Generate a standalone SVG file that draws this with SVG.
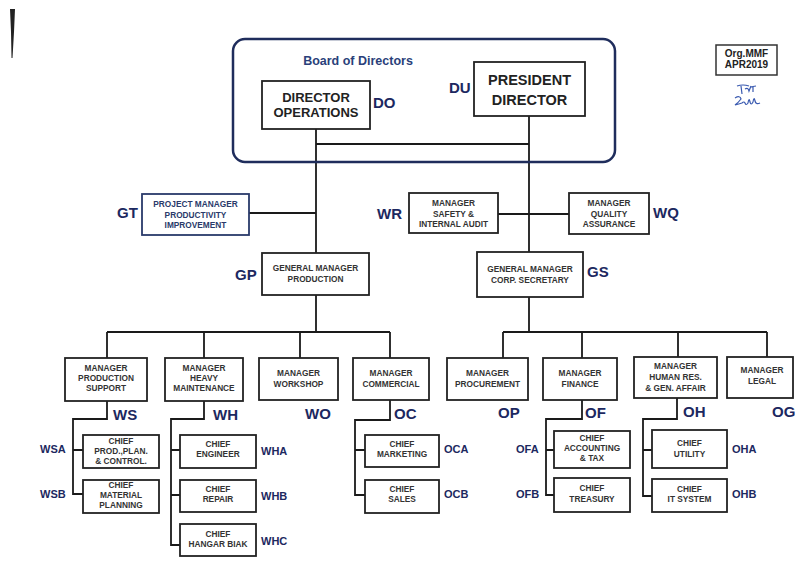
<svg xmlns="http://www.w3.org/2000/svg" width="795" height="581" viewBox="0 0 795 581">
<style>
.box{fill:#fff;stroke:#222;stroke-width:1.8}
.bt{font-family:"Liberation Sans",Arial,sans-serif;font-weight:bold;font-size:8.3px;fill:#333;text-anchor:middle}
.big{font-family:"Liberation Sans",Arial,sans-serif;font-weight:bold;fill:#222;text-anchor:middle}
.lbl{font-family:"Liberation Sans",Arial,sans-serif;font-weight:bold;font-size:15px;fill:#1c2860}
.sl{font-family:"Liberation Sans",Arial,sans-serif;font-weight:bold;font-size:11px;fill:#1c2860}
.con{fill:none;stroke:#1a1a1a;stroke-width:1.8}
</style>
<rect width="795" height="581" fill="#fff"/>
<polygon points="10,9 15,9 14,32 12.5,58 11.5,58 11,32" fill="#222"/>
<g id="connectors">
<path class="con" d="M316,129 V253 M316,144 H529 M529,116 V252 M249,213 H316 M498,214 H569"/>
<path class="con" d="M316,295 V332 M107,332 H390 M107,332 V358 M204,332 V358 M300,332 V358 M390,332 V358"/>
<path class="con" d="M529,297 V332 M503,332 H767 M503,332 V358 M582,332 V358 M678,332 V357 M767,332 V357"/>
<path class="con" d="M107,401 V419 H73 V494 H83 M73,450 H83"/>
<path class="con" d="M204,401 V419 H171 V545 H180 M171,450 H180 M171,495 H180"/>
<path class="con" d="M390,400 V420 H355 V495 H365 M355,450 H365"/>
<path class="con" d="M582,400 V419 H546 V495 H554 M546,450 H554"/>
<path class="con" d="M677,398 V419 H643 V496 H652 M643,450 H652"/>
</g>
<g id="board">
<rect x="233" y="39" width="382" height="123" rx="12" fill="none" stroke="#1f2d5c" stroke-width="2.5"/>
<text x="358" y="65" font-family="'Liberation Sans',Arial,sans-serif" font-weight="bold" font-size="12.5" fill="#2a3f7a" text-anchor="middle">Board of Directors</text>
</g>
<g id="DO">
<rect class="box" x="262" y="81" width="108" height="48"/>
<text class="big" font-size="13" x="316" y="102">DIRECTOR</text>
<text class="big" font-size="13" x="316" y="117">OPERATIONS</text>
<text class="lbl" x="373" y="108">DO</text>
</g>
<g id="DU">
<rect class="box" x="474" y="62" width="111" height="54"/>
<text class="big" font-size="14.5" x="529.5" y="85">PRESIDENT</text>
<text class="big" font-size="14.5" x="529.5" y="105">DIRECTOR</text>
<text class="lbl" x="449" y="93">DU</text>
</g>
<g id="GT">
<rect x="142" y="194" width="107" height="41" fill="#fff" stroke="#2a3a6a" stroke-width="1.8"/>
<text class="bt" style="fill:#2a3a6a" x="195.5" y="207">PROJECT MANAGER</text>
<text class="bt" style="fill:#2a3a6a" x="195.5" y="217.5">PRODUCTIVITY</text>
<text class="bt" style="fill:#2a3a6a" x="195.5" y="228">IMPROVEMENT</text>
<text class="lbl" x="117" y="218">GT</text>
</g>
<g id="WR">
<rect class="box" x="409" y="193" width="89" height="40"/>
<text class="bt" x="453.5" y="206">MANAGER</text>
<text class="bt" x="453.5" y="216.5">SAFETY &amp;</text>
<text class="bt" x="453.5" y="227">INTERNAL AUDIT</text>
<text class="lbl" x="377" y="219">WR</text>
</g>
<g id="WQ">
<rect class="box" x="569" y="193" width="80" height="41"/>
<text class="bt" x="609" y="206">MANAGER</text>
<text class="bt" x="609" y="216.5">QUALITY</text>
<text class="bt" x="609" y="227">ASSURANCE</text>
<text class="lbl" x="653" y="218">WQ</text>
</g>
<g id="GP">
<rect class="box" x="262" y="253" width="107" height="42"/>
<text class="bt" x="315.5" y="271">GENERAL MANAGER</text>
<text class="bt" x="315.5" y="282">PRODUCTION</text>
<text class="lbl" x="235" y="280">GP</text>
</g>
<g id="GS">
<rect class="box" x="477" y="252" width="106" height="45"/>
<text class="bt" x="530" y="272">GENERAL MANAGER</text>
<text class="bt" x="530" y="283">CORP. SECRETARY</text>
<text class="lbl" x="587" y="277">GS</text>
</g>
<g id="WS">
<rect class="box" x="65" y="358" width="82" height="43"/>
<text class="bt" x="106" y="371">MANAGER</text>
<text class="bt" x="106" y="381">PRODUCTION</text>
<text class="bt" x="106" y="391">SUPPORT</text>
<text class="lbl" x="113" y="420">WS</text>
</g>
<g id="WH">
<rect class="box" x="165" y="358" width="78" height="43"/>
<text class="bt" x="204" y="371">MANAGER</text>
<text class="bt" x="204" y="381">HEAVY</text>
<text class="bt" x="204" y="391">MAINTENANCE</text>
<text class="lbl" x="213" y="420">WH</text>
</g>
<g id="WO">
<rect class="box" x="259" y="358" width="79" height="42"/>
<text class="bt" x="298.5" y="376">MANAGER</text>
<text class="bt" x="298.5" y="387">WORKSHOP</text>
<text class="lbl" x="305" y="419">WO</text>
</g>
<g id="OC">
<rect class="box" x="353" y="358" width="76" height="42"/>
<text class="bt" x="391" y="376">MANAGER</text>
<text class="bt" x="391" y="387">COMMERCIAL</text>
<text class="lbl" x="394" y="419">OC</text>
</g>
<g id="OP">
<rect class="box" x="447" y="358" width="81" height="42"/>
<text class="bt" x="487.5" y="376">MANAGER</text>
<text class="bt" x="487.5" y="387">PROCUREMENT</text>
<text class="lbl" x="498" y="418">OP</text>
</g>
<g id="OF">
<rect class="box" x="543" y="358" width="74" height="42"/>
<text class="bt" x="580" y="376">MANAGER</text>
<text class="bt" x="580" y="387">FINANCE</text>
<text class="lbl" x="585" y="418">OF</text>
</g>
<g id="OH">
<rect class="box" x="634" y="357" width="83" height="41"/>
<text class="bt" x="675.5" y="369">MANAGER</text>
<text class="bt" x="675.5" y="380">HUMAN RES.</text>
<text class="bt" x="675.5" y="391">&amp; GEN. AFFAIR</text>
<text class="lbl" x="683" y="417">OH</text>
</g>
<g id="OG">
<rect class="box" x="727" y="357" width="66" height="41"/>
<text class="bt" x="762" y="373">MANAGER</text>
<text class="bt" x="762" y="384">LEGAL</text>
<text class="lbl" x="772" y="417">OG</text>
</g>
<g id="WSA">
<rect class="box" x="83" y="435" width="76" height="33"/>
<text class="bt" x="121" y="444">CHIEF</text>
<text class="bt" x="121" y="454">PROD.,PLAN.</text>
<text class="bt" x="121" y="464">&amp; CONTROL.</text>
<text class="sl" x="40" y="453">WSA</text>
</g>
<g id="WSB">
<rect class="box" x="83" y="480" width="76" height="33"/>
<text class="bt" x="121" y="488">CHIEF</text>
<text class="bt" x="121" y="498">MATERIAL</text>
<text class="bt" x="121" y="508">PLANNING</text>
<text class="sl" x="40" y="498">WSB</text>
</g>
<g id="WHA">
<rect class="box" x="180" y="435" width="76" height="33"/>
<text class="bt" x="218" y="447">CHIEF</text>
<text class="bt" x="218" y="457">ENGINEER</text>
<text class="sl" x="261" y="455">WHA</text>
</g>
<g id="WHB">
<rect class="box" x="180" y="480" width="76" height="32"/>
<text class="bt" x="218" y="492">CHIEF</text>
<text class="bt" x="218" y="502">REPAIR</text>
<text class="sl" x="261" y="500">WHB</text>
</g>
<g id="WHC">
<rect class="box" x="180" y="524" width="76" height="32"/>
<text class="bt" x="218" y="537">CHIEF</text>
<text class="bt" x="218" y="547">HANGAR BIAK</text>
<text class="sl" x="261" y="545">WHC</text>
</g>
<g id="OCA">
<rect class="box" x="365" y="435" width="74" height="32"/>
<text class="bt" x="402" y="447">CHIEF</text>
<text class="bt" x="402" y="457">MARKETING</text>
<text class="sl" x="444" y="453">OCA</text>
</g>
<g id="OCB">
<rect class="box" x="365" y="480" width="74" height="33"/>
<text class="bt" x="402" y="492">CHIEF</text>
<text class="bt" x="402" y="502">SALES</text>
<text class="sl" x="444" y="498">OCB</text>
</g>
<g id="OFA">
<rect class="box" x="554" y="431" width="76" height="37"/>
<text class="bt" x="592" y="441">CHIEF</text>
<text class="bt" x="592" y="451">ACCOUNTING</text>
<text class="bt" x="592" y="461">&amp; TAX</text>
<text class="sl" x="516" y="453">OFA</text>
</g>
<g id="OFB">
<rect class="box" x="554" y="478" width="76" height="34"/>
<text class="bt" x="592" y="491">CHIEF</text>
<text class="bt" x="592" y="502">TREASURY</text>
<text class="sl" x="516" y="498">OFB</text>
</g>
<g id="OHA">
<rect class="box" x="652" y="430" width="75" height="38"/>
<text class="bt" x="689.5" y="446">CHIEF</text>
<text class="bt" x="689.5" y="457">UTILITY</text>
<text class="sl" x="732" y="453">OHA</text>
</g>
<g id="OHB">
<rect class="box" x="652" y="479" width="75" height="33"/>
<text class="bt" x="689.5" y="492">CHIEF</text>
<text class="bt" x="689.5" y="502">IT SYSTEM</text>
<text class="sl" x="732" y="498">OHB</text>
</g>
<g id="org">
<rect x="716" y="45" width="61" height="30" fill="#fff" stroke="#333" stroke-width="1.5"/>
<text class="big" font-size="10" x="746.5" y="57">Org.MMF</text>
<text class="big" font-size="10" x="746.5" y="68">APR2019</text>
<path d="M737,86 q6,-2 12,0 M741,86 l1,8 M745,89 q3,-2 4,2 l2,-5 M750,87 l6,-1 M753,86 l0,6" fill="none" stroke="#3a5ab0" stroke-width="1.2"/>
<path d="M735,98 q5,-3 6,1 q-3,4 -6,6 q4,-1 7,-2 q2,-2 3,0 q1,3 3,0 q1,-6 2,-1 q1,4 3,0 q1,-6 2,-1 q1,4 5,2" fill="none" stroke="#3a5ab0" stroke-width="1.2"/>
</g>
</svg>
